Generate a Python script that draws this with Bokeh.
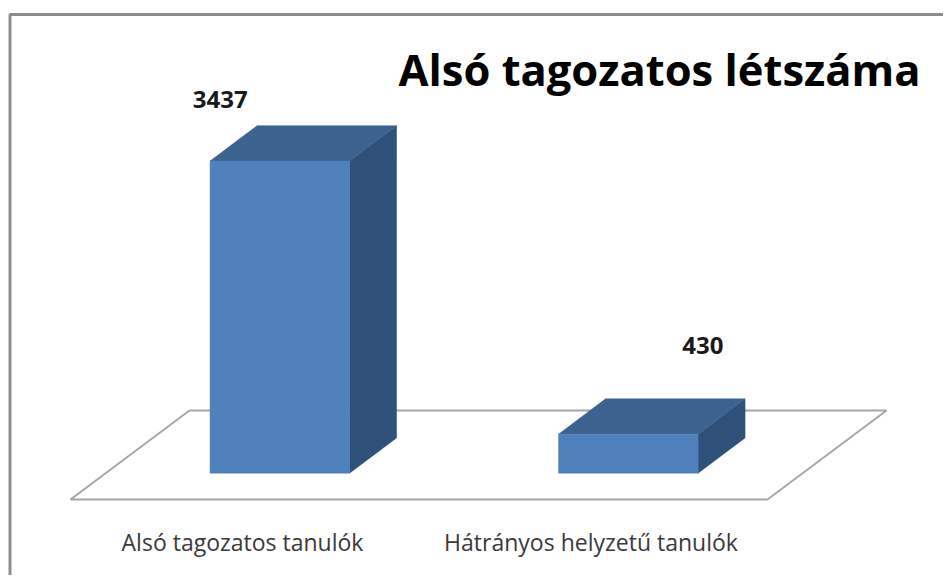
from bokeh.plotting import figure
from bokeh.models import Range1d
from bokeh.core.properties import value
from bokeh.embed import file_html
from bokeh.resources import INLINE

# data
title_text = "Alsó tagozatos létszáma"
categories = ["Alsó tagozatos tanulók", "Hátrányos helyzetű tanulók"]
values = [3437, 430]

# layout
W, H = 943, 575
PX_PER_CAT = 348.5
PX_PER_VAL = 0.09083
ORIGIN_X, ORIGIN_Y = 279.3, 472.7   # figure px of category 0 / value 0
BAR_PX = 139.5
DEPTH_X, DEPTH_Y = 47.0, 35.3


def dx(px):
    return px / PX_PER_CAT


def dy(px):
    return px / PX_PER_VAL


def X(px):
    return (px - ORIGIN_X) / PX_PER_CAT


def Y(px):
    return (ORIGIN_Y - px) / PX_PER_VAL


p = figure(width=W, height=H, output_backend="svg", toolbar_location=None,
           x_range=Range1d(X(0), X(W)), y_range=Range1d(Y(H), Y(0)),
           min_border=0, min_border_left=0, min_border_right=0,
           min_border_top=0, min_border_bottom=0)
p.axis.visible = False
p.grid.visible = False
p.outline_line_color = None
p.background_fill_color = "white"
p.border_fill_color = "white"

# chart border (runs off the right and bottom of the picture)
p.line([X(9.5), X(9.5), X(960)], [Y(600), Y(14), Y(14)], line_color="#8C8C8C", line_width=3)

# floor
p.patch([X(70), X(189), X(886), X(767), X(70)],
        [Y(499), Y(410), Y(410), Y(499), Y(499)],
        fill_color="white", line_color="#A6A6A6", line_width=2)

# 3D bars
hw = dx(BAR_PX) / 2
ddx, ddy = dx(DEPTH_X), dy(DEPTH_Y)
for i, v in enumerate(values):
    p.patch([i + hw, i + hw + ddx, i + hw + ddx, i + hw],
            [0, ddy, v + ddy, v], fill_color="#2F5179", line_color="#2F5179", line_width=0.5)
    p.patch([i - hw, i - hw + ddx, i + hw + ddx, i + hw],
            [v, v + ddy, v + ddy, v], fill_color="#3C628F", line_color="#3C628F", line_width=0.5)
    p.quad(left=i - hw, right=i + hw, bottom=0, top=v,
           fill_color="#4F81BD", line_color="#4F81BD", line_width=0.5)

# value labels
label_shift_x = [-59.5, 74.5]
label_shift_y = [61.5, 88.5]
p.text(x=[i + dx(s) for i, s in enumerate(label_shift_x)],
       y=[v + dy(s) for v, s in zip(values, label_shift_y)],
       text=[str(v) for v in values],
       text_font=value("Open Sans"), text_font_style="bold", text_font_size="24px",
       text_color="#1A1A1A", text_align="center", text_baseline="alphabetic")

# category labels
p.text(x=[X(242), X(590.5)], y=[Y(541), Y(541)], text=categories,
       text_font=value("Open Sans"), text_font_size="23px",
       text_color="#3A3A3A", text_align="center", text_baseline="alphabetic")

# title
p.text(x=[X(398)], y=[Y(69)], text=[title_text],
       text_font=value("Open Sans"), text_font_style="bold", text_font_size="43.5px",
       text_color="#000000", text_align="left", text_baseline="alphabetic")

open("out.html", "w").write(file_html(p, INLINE))
